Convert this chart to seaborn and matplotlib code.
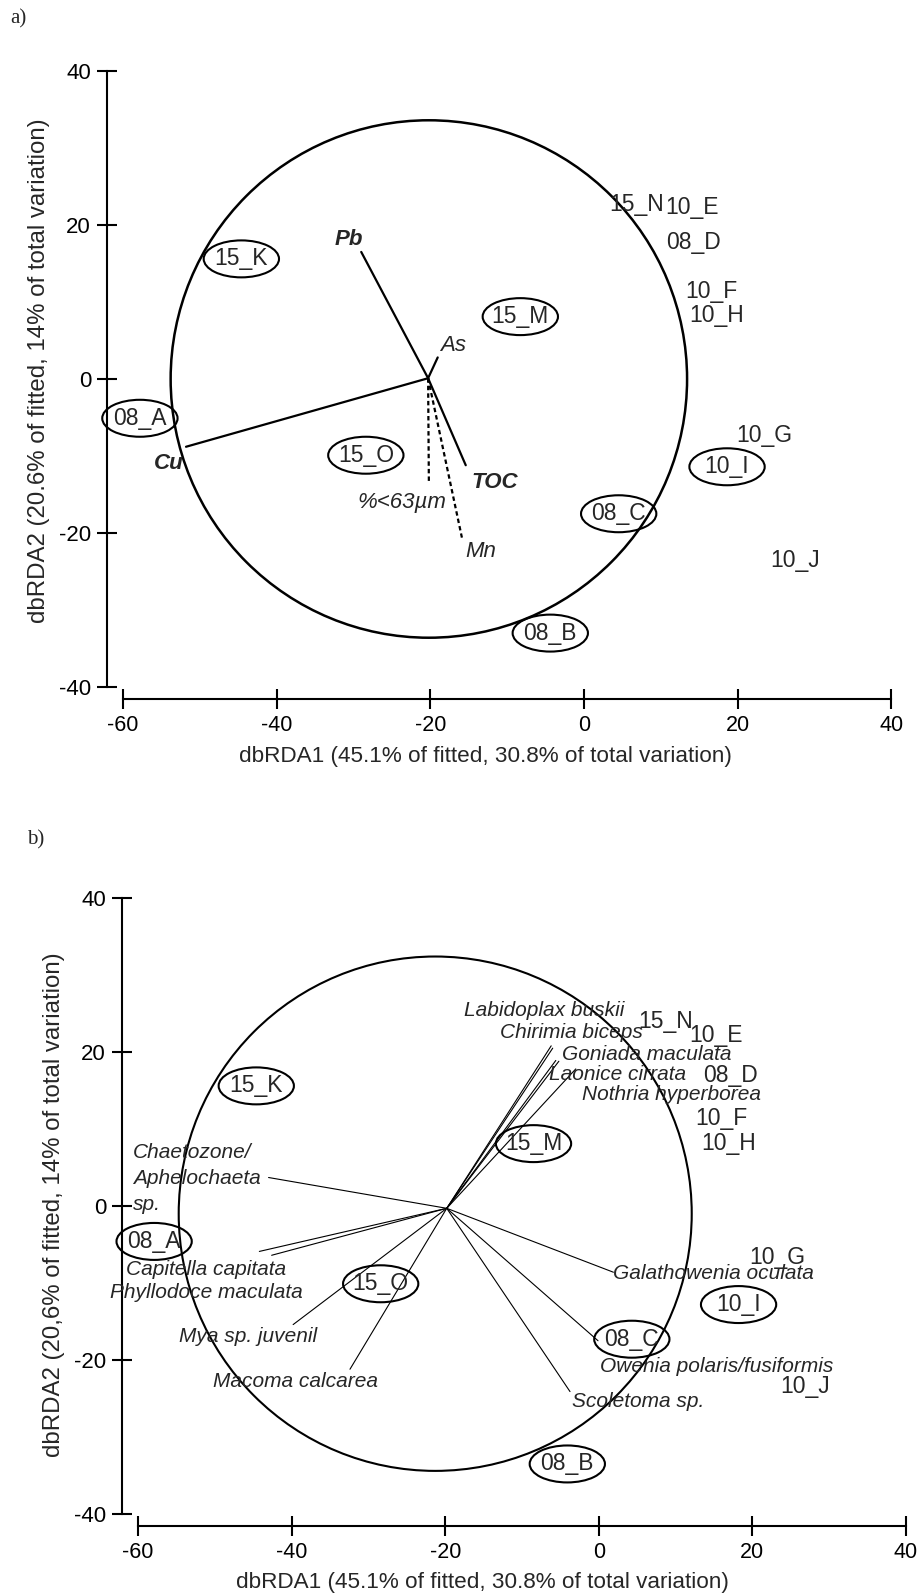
import numpy as np
import pandas as pd
import seaborn as sns
import matplotlib.pyplot as plt
from matplotlib.patches import Ellipse, Circle

sns.set_theme(style="ticks")
plt.rcParams['font.family'] = ['Liberation Sans', 'DejaVu Sans']
plt.rcParams['axes.linewidth'] = 1.5
plt.rcParams['axes.edgecolor'] = 'black'
plt.rcParams['axes.unicode_minus'] = False

# ---- samples (same 14 stations in both panels, label positions)
samples = ['15_K', '08_A', '15_O', '15_M', '08_C', '08_B', '10_I',
           '15_N', '10_E', '08_D', '10_F', '10_H', '10_G', '10_J']
circled = [True, True, True, True, True, True, True,
           False, False, False, False, False, False, False]
a_x = [-44.6, -57.8, -28.4, -8.3, 4.5, -4.4, 18.6, 6.8, 14.0, 14.3, 16.6, 17.3, 23.5, 27.5]
a_y = [15.6, -5.1, -9.9, 8.1, -17.5, -33.0, -11.4, 22.7, 22.3, 17.7, 11.4, 8.3, -7.4, -23.6]
b_x = [-44.6, -57.9, -28.4, -8.5, 4.3, -4.1, 18.2, 8.75, 15.2, 17.1, 16.0, 16.9, 23.2, 26.8]
b_y = [15.6, -4.6, -10.1, 8.1, -17.3, -33.5, -12.8, 23.9, 22.2, 16.9, 11.4, 8.1, -6.7, -23.4]

# ---- panel a: environmental vectors
env_origin = (-20.3, 0.1)
env_names = ['Pb', 'Cu', 'As', 'TOC', '%<63µm', 'Mn']
env_x = [-29.0, -51.8, -19.05, -15.4, -20.2, -15.9]
env_y = [16.5, -8.8, 2.8, -11.2, -13.3, -20.6]
env_kind = ['solid', 'solid', 'solid', 'solid', 'dashed', 'dashed']
env_bold = [True, True, False, True, False, False]
env_lx = [-30.6, -54.1, -17.1, -11.6, -23.7, -13.5]
env_ly = [18.1, -11.0, 4.4, -13.4, -16.1, -22.4]
circle_a = (-20.2, 0.0, 33.6)

# ---- panel b: species vectors
sp_origin = (-19.8, -0.3)
sp_names = ['Labidoplax buskii', 'Chirimia biceps', 'Goniada maculata', 'Laonice cirrata',
            'Nothria hyperborea', 'Chaetozone/\nAphelochaeta\nsp.', 'Capitella capitata',
            'Phyllodoce maculata', 'Mya sp. juvenil', 'Macoma calcarea',
            'Galathowenia oculata', 'Owenia polaris/fusiformis', 'Scoletoma sp.']
sp_x = [-6.2, -6.0, -5.6, -5.2, -3.0, -43.0, -44.2, -42.6, -39.8, -32.4, 1.9, -0.1, -3.75]
sp_y = [20.8, 20.5, 18.9, 18.8, 17.8, 3.7, -5.9, -6.4, -15.4, -21.2, -8.6, -17.5, -24.1]
sp_lx = [-7.1, -3.5, 6.2, 2.5, 9.5, -52.3, -51.1, -51.1, -45.7, -39.5, 14.9, 15.3, 5.1]
sp_ly = [25.4, 22.5, 19.7, 17.1, 14.5, 3.6, -8.2, -11.2, -16.9, -22.8, -8.8, -20.8, -25.4]
circle_b = (-21.3, -1.0, 33.4)

xlab = 'dbRDA1 (45.1% of fitted, 30.8% of total variation)'
ylab_a = 'dbRDA2 (20.6% of fitted, 14% of total variation)'
ylab_b = 'dbRDA2 (20,6% of fitted, 14% of total variation)'


def vector_frame(origin, names, xs, ys, kinds=None):
    rows = []
    for i, n in enumerate(names):
        k = kinds[i] if kinds else 'solid'
        rows.append({'var': n, 'x': origin[0], 'y': origin[1], 'kind': k})
        rows.append({'var': n, 'x': xs[i], 'y': ys[i], 'kind': k})
    return pd.DataFrame(rows)


def draw_samples(ax, xs, ys):
    for s, x, y, c in zip(samples, xs, ys, circled):
        ax.text(x, y, s, ha='center', va='center', fontsize=16.5)
        if c:
            ax.add_patch(Ellipse((x, y), 9.8, 4.8, fill=False, lw=1.5,
                                 ec='black', clip_on=False))


def style_axes(ax, ylabel, xl_pos, yl_pos):
    ax.set_xlim(-60, 40)
    ax.set_ylim(-40, 40)
    ax.set_xticks([-60, -40, -20, 0, 20, 40])
    ax.set_yticks([-40, -20, 0, 20, 40])
    ax.tick_params(direction='inout', length=15, width=1.5, labelsize=16,
                   colors='black', pad=4)
    ax.tick_params(axis='x', labelsize=15.5)
    sns.despine(ax=ax, offset={'left': 11.5, 'bottom': 8.6}, trim=True)
    ax.set_xlabel(xlab, fontsize=16.2)
    ax.set_ylabel(ylabel, fontsize=17.3)
    ax.xaxis.label.set_va('center')
    ax.yaxis.label.set_va('center')
    ax.xaxis.set_label_coords(*xl_pos)
    ax.yaxis.set_label_coords(*yl_pos)


fig = plt.figure(figsize=(9.2, 15.94), dpi=100)
ax_a = fig.add_axes([123 / 920, 907 / 1594, 768.5 / 920, 616 / 1594])
ax_b = fig.add_axes([138 / 920, 80 / 1594, 768 / 920, 616 / 1594])

# panel a
ax_a.add_patch(Circle(circle_a[:2], circle_a[2], fill=False, lw=1.8, ec='black'))
df_env = vector_frame(env_origin, env_names, env_x, env_y, env_kind)
sns.lineplot(data=df_env, x='x', y='y', units='var', estimator=None, sort=False,
             style='kind', dashes={'solid': '', 'dashed': (2, 1.4)},
             color='black', lw=1.6, legend=False, ax=ax_a)
for n, x, y, b in zip(env_names, env_lx, env_ly, env_bold):
    ax_a.text(x, y, n, ha='center', va='center', fontsize=16, style='italic',
              weight='bold' if b else 'normal')
draw_samples(ax_a, a_x, a_y)
style_axes(ax_a, ylab_a, (0.471, -0.1136), (-0.109, 0.513))

# panel b
ax_b.add_patch(Circle(circle_b[:2], circle_b[2], fill=False, lw=1.5, ec='black'))
df_sp = vector_frame(sp_origin, sp_names, sp_x, sp_y)
sns.lineplot(data=df_sp, x='x', y='y', units='var', estimator=None, sort=False,
             color='black', lw=0.8, legend=False, ax=ax_b)
for n, x, y in zip(sp_names, sp_lx, sp_ly):
    ax_b.text(x, y, n, ha='center', va='center', fontsize=15, style='italic',
              multialignment='left', linespacing=1.45)
draw_samples(ax_b, b_x, b_y)
style_axes(ax_b, ylab_b, (0.449, -0.112), (-0.109, 0.502))

fig.text(18 / 920, 1 - 19 / 1594, 'a)', family='Liberation Serif', fontsize=15,
         ha='center', va='center')
fig.text(36 / 920, 1 - 840 / 1594, 'b)', family='Liberation Serif', fontsize=15,
         ha='center', va='center')

fig.savefig('out.png', dpi=100)
